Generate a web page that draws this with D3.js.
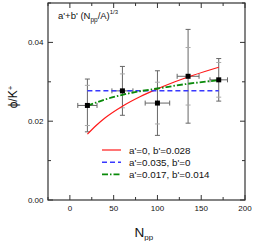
<!DOCTYPE html>
<html>
<head>
<meta charset="utf-8">
<script src="https://cdn.jsdelivr.net/npm/d3@7"></script>
<style>
  body { margin: 0; background: #fff; }
  svg { display: block; font-family: "Liberation Sans", Arial, sans-serif; }
</style>
</head>
<body>
<svg id="chart" width="256" height="241"></svg>
<script>
// data points
var npp = [20, 60, 100, 135, 170];
var nppErr = [11, 12, 14, 12.5, 10];
var phi = [0.0240, 0.0277, 0.0246, 0.0314, 0.0305];
var phiErrOuter = [0.0067, 0.0062, 0.0082, 0.0119, 0.0054];
var phiErrInner = [0.0051, 0.0043, 0.0053, 0.0073, 0.0044];

// model curves
var redN = [20, 30, 40, 60, 80, 100, 120, 140, 170];
var redPhi = [0.0167, 0.0189, 0.0208, 0.0238, 0.0262, 0.0282, 0.0300, 0.0316, 0.0337];
var blueN = [20, 170];
var bluePhi = [0.0277, 0.0277];
var greenN = [20, 40, 60, 80, 100, 135, 170];
var greenPhi = [0.0239, 0.0255, 0.0267, 0.0276, 0.0283, 0.0295, 0.0304];

var legendLabels = ["a'=0, b'=0.028", "a'=0.035, b'=0", "a'=0.017, b'=0.014"];
var xTicks = [0, 50, 100, 150, 200];
var xMinor = [-25, 25, 75, 125, 175];
var yTicks = [0, 0.02, 0.04];
var yMinor = [0.01, 0.03, 0.05];

var L = 48, R = 245, T = 3, B = 200;
var svg = d3.select("#chart");
var x = d3.scaleLinear().domain([-25, 200]).range([L, R]);
var y = d3.scaleLinear().domain([0, 0.05]).range([B, T]);

// ticks (inside, on all four sides)
var tk = svg.append("g").attr("stroke", "#333").attr("stroke-width", 1);
function vt (v, len) {
  tk.append("line").attr("x1", x(v)).attr("x2", x(v)).attr("y1", B).attr("y2", B - len);
  tk.append("line").attr("x1", x(v)).attr("x2", x(v)).attr("y1", T).attr("y2", T + len);
}
function ht (v, len) {
  tk.append("line").attr("y1", y(v)).attr("y2", y(v)).attr("x1", L).attr("x2", L + len);
  tk.append("line").attr("y1", y(v)).attr("y2", y(v)).attr("x1", R).attr("x2", R - len);
}
xTicks.forEach(v => vt(v, 5));
xMinor.forEach(v => vt(v, 3));
yTicks.forEach(v => ht(v, 5));
yMinor.forEach(v => ht(v, 3));

svg.append("rect").attr("x", L).attr("y", T).attr("width", R - L).attr("height", B - T)
  .attr("fill", "none").attr("stroke", "#333").attr("stroke-width", 1.2);

svg.append("g").selectAll("text").data(xTicks).join("text")
  .attr("x", d => x(d)).attr("y", 211).attr("text-anchor", "middle")
  .attr("font-size", 8).attr("fill", "#111").text(d => d);
svg.append("g").selectAll("text").data(yTicks).join("text")
  .attr("x", 43.5).attr("y", d => y(d) + 3).attr("text-anchor", "end")
  .attr("font-size", 8).attr("fill", "#111").text(d => d3.format(".2f")(d));

// axis titles
var xl = svg.append("text").attr("x", 134.5).attr("y", 237).attr("font-size", 13.5).attr("fill", "#111");
xl.append("tspan").text("N");
xl.append("tspan").attr("font-size", 8).attr("dy", 3).text("pp");

var yl = svg.append("text").attr("transform", "translate(17,97) rotate(-90)")
  .attr("text-anchor", "middle").attr("font-size", 12).attr("fill", "#111");
yl.append("tspan").text("\u03d5/K");
yl.append("tspan").attr("font-size", 8).attr("dy", -4).text("+");

var tt = svg.append("text").attr("x", 58).attr("y", 19).attr("font-size", 9.5).attr("fill", "#111");
tt.append("tspan").text("a'+b' (N");
tt.append("tspan").attr("font-size", 6.5).attr("dy", 3).text("pp");
tt.append("tspan").attr("dy", -3).text("/A)");
tt.append("tspan").attr("font-size", 6).attr("dy", -5).text("1/3");

// error bars
var eb = svg.append("g");
npp.forEach((n, i) => {
  var cx = x(n), cy = y(phi[i]);
  eb.append("line").attr("x1", cx).attr("x2", cx)
    .attr("y1", y(phi[i] + phiErrOuter[i])).attr("y2", y(phi[i] - phiErrOuter[i]))
    .attr("stroke", "#666").attr("stroke-width", 1);
  [phi[i] + phiErrOuter[i], phi[i] - phiErrOuter[i]].forEach(v => {
    eb.append("line").attr("x1", cx - 2.5).attr("x2", cx + 2.5).attr("y1", y(v)).attr("y2", y(v))
      .attr("stroke", "#666").attr("stroke-width", 1);
  });
  [phi[i] + phiErrInner[i], phi[i] - phiErrInner[i]].forEach(v => {
    eb.append("line").attr("x1", cx - 2.5).attr("x2", cx + 2.5).attr("y1", y(v)).attr("y2", y(v))
      .attr("stroke", "#aaa").attr("stroke-width", 1);
  });
  eb.append("line").attr("x1", x(n - nppErr[i])).attr("x2", x(n + nppErr[i])).attr("y1", cy).attr("y2", cy)
    .attr("stroke", "#666").attr("stroke-width", 1);
  [n - nppErr[i], n + nppErr[i]].forEach(v => {
    eb.append("line").attr("x1", x(v)).attr("x2", x(v)).attr("y1", cy - 2.5).attr("y2", cy + 2.5)
      .attr("stroke", "#666").attr("stroke-width", 1);
  });
});

// curves
var series = [
  { n: redN, p: redPhi, color: "#ff1a1a", w: 1.2, dash: null },
  { n: blueN, p: bluePhi, color: "#3838ff", w: 1.5, dash: "5,3" },
  { n: greenN, p: greenPhi, color: "#0a8a0a", w: 1.8, dash: "6,2,1.5,2" }
];
var line = d3.line().x(d => x(d[0])).y(d => y(d[1])).curve(d3.curveMonotoneX);
series.forEach(s => {
  svg.append("path").datum(d3.zip(s.n, s.p)).attr("d", line)
    .attr("fill", "none").attr("stroke", s.color).attr("stroke-width", s.w)
    .attr("stroke-dasharray", s.dash);
});

// markers
svg.append("g").selectAll("rect").data(d3.range(npp.length)).join("rect")
  .attr("x", i => x(npp[i]) - 2.5).attr("y", i => y(phi[i]) - 2.5)
  .attr("width", 5).attr("height", 5).attr("fill", "#000");

// legend
var lg = svg.append("g");
series.forEach((s, i) => {
  var ly = 150 + i * 12.2;
  lg.append("line").attr("x1", 102).attr("x2", 121).attr("y1", ly).attr("y2", ly)
    .attr("stroke", s.color).attr("stroke-width", s.w).attr("stroke-dasharray", s.dash);
  lg.append("text").attr("x", 129).attr("y", ly + 3.5).attr("font-size", 9.8).attr("fill", "#111")
    .text(legendLabels[i]);
});
</script>
</body>
</html>
